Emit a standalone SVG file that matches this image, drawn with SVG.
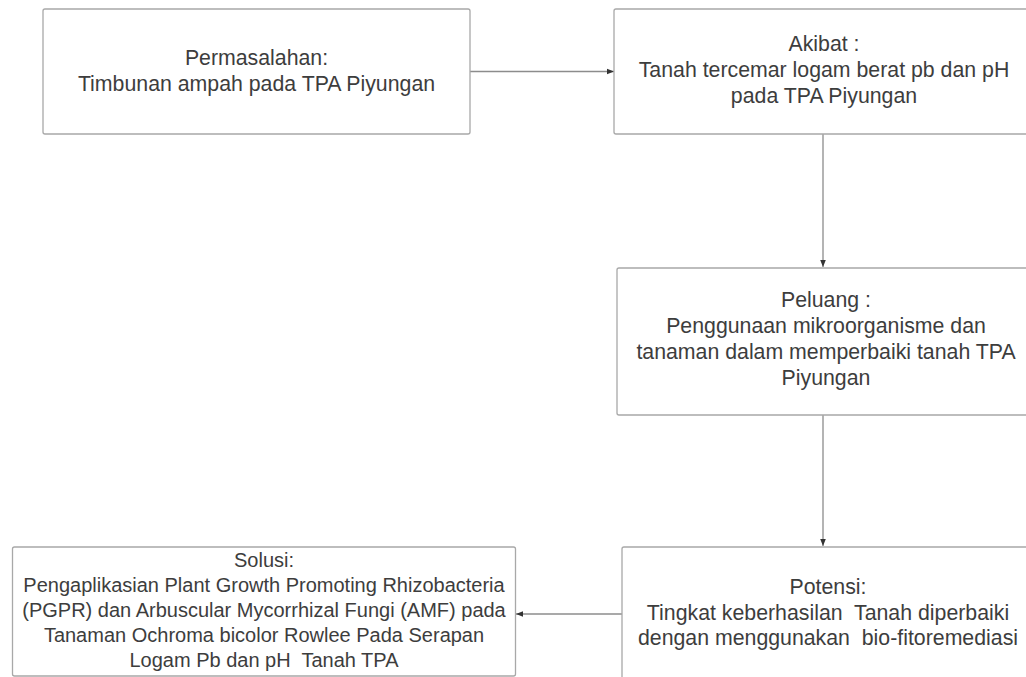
<svg xmlns="http://www.w3.org/2000/svg" width="1026" height="677" viewBox="0 0 1026 677">
<style>
.box{fill:#ffffff;stroke:#a8a8a8;stroke-width:1.3}
.t{font-family:"Liberation Sans",Arial,sans-serif;font-size:21.3px;fill:#3d3d3d;text-anchor:middle}
.s{font-size:20px}
.c{fill:none;stroke:#8c8c8c;stroke-width:1.3}
</style>
<defs>
<marker id="ah" viewBox="0 0 10 10" refX="10" refY="5" markerWidth="7" markerHeight="7" markerUnits="userSpaceOnUse" orient="auto">
<path d="M0,1 L10,5 L0,9 Z" fill="#333333"/>
</marker>
</defs>
<rect width="1026" height="677" fill="#ffffff"/>
<g id="connectors">
<path class="c" d="M470,71.5 L614,71.5" marker-end="url(#ah)"/>
<path class="c" d="M823,134 L823,267" marker-end="url(#ah)"/>
<path class="c" d="M823,415 L823,546" marker-end="url(#ah)"/>
<path class="c" d="M622,614 L516,614" marker-end="url(#ah)"/>
</g>
<g id="permasalahan">
<rect class="box" x="43" y="9" width="427" height="125" rx="2"/>
<text class="t" x="256.5" y="64.5">Permasalahan:</text>
<text class="t" x="256.5" y="90.5">Timbunan ampah pada TPA Piyungan</text>
</g>
<g id="akibat">
<rect class="box" x="614" y="9" width="420" height="125" rx="2"/>
<text class="t" x="824" y="51">Akibat :</text>
<text class="t" x="824" y="77">Tanah tercemar logam berat pb dan pH</text>
<text class="t" x="824" y="102.5">pada TPA Piyungan</text>
</g>
<g id="peluang">
<rect class="box" x="617" y="268" width="418" height="147" rx="2"/>
<text class="t" x="826" y="307">Peluang :</text>
<text class="t" x="826" y="333">Penggunaan mikroorganisme dan</text>
<text class="t" x="826" y="358.5">tanaman dalam memperbaiki tanah TPA</text>
<text class="t" x="826" y="384.5">Piyungan</text>
</g>
<g id="solusi">
<rect class="box" x="12.5" y="547" width="503" height="129" rx="2"/>
<text class="t s" x="264" y="567">Solusi:</text>
<text class="t s" x="264" y="592">Pengaplikasian Plant Growth Promoting Rhizobacteria</text>
<text class="t s" x="264" y="617">(PGPR) dan Arbuscular Mycorrhizal Fungi (AMF) pada</text>
<text class="t s" x="264" y="642">Tanaman Ochroma bicolor Rowlee Pada Serapan</text>
<text class="t s" x="264" y="667" xml:space="preserve">Logam Pb dan pH  Tanah TPA</text>
</g>
<g id="potensi">
<rect class="box" x="622" y="547" width="414" height="150" rx="2"/>
<text class="t" x="828" y="594">Potensi:</text>
<text class="t" x="828" y="619.5" xml:space="preserve">Tingkat keberhasilan  Tanah diperbaiki</text>
<text class="t" x="828" y="644.5" xml:space="preserve">dengan menggunakan  bio-fitoremediasi</text>
</g>
</svg>
